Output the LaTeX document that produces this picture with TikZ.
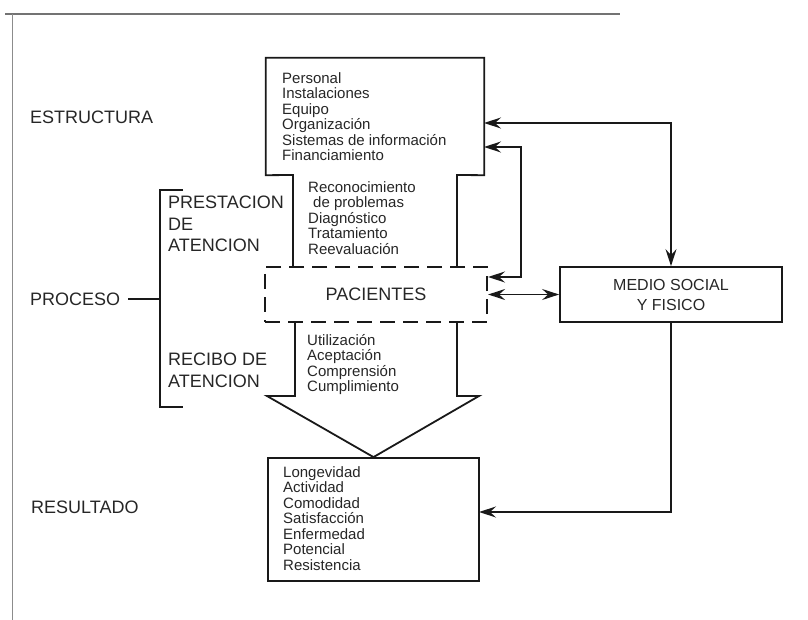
\documentclass[tikz,border=0pt]{standalone}
\usepackage{fontspec}
\setmainfont{Liberation Sans}
\usetikzlibrary{arrows.meta}
\begin{document}
\begin{tikzpicture}[x=1pt,y=-1pt,
  ink/.style={draw=black!90,line width=1.8pt},
  body/.style={anchor=north west,inner sep=0pt,align=left,text=black!85,font=\fontsize{15}{15.5}\selectfont},
  lbl/.style={anchor=west,inner sep=0pt,text=black!85,font=\fontsize{18}{21.5}\selectfont},
  box/.style={ink,rectangle,inner sep=0pt},
  tip/.style={-{Stealth[length=17pt,width=11pt,inset=6pt]}},
  tips/.style={{Stealth[length=17pt,width=11pt,inset=6pt]}-{Stealth[length=17pt,width=11pt,inset=6pt]}}
]
\useasboundingbox (0,0) rectangle (808,620);
% frame
\draw[black!55,line width=1.2pt] (5,14) -- (620,14);
\draw[black!45,line width=1pt] (12,14) -- (12,620);

% structure/process/outcome big arrow outline
\node[minimum width=218pt,minimum height=117pt,inner sep=0pt] (estr) at (375,116.5) {};
\draw[ink] (293,266) -- (293,175) -- (estr.south west) -- (estr.north west) -- (estr.north east) -- (estr.south east) -- (457,175) -- (457,266);
\node[box,dashed,dash pattern=on 15pt off 8pt,line width=2.2pt,minimum width=222pt,minimum height=55pt,
  font=\fontsize{18}{21.5}\selectfont,text=black!85] (pac) at (376,294.5) {PACIENTES};
\node[box,minimum width=211pt,minimum height=123pt] (res) at (373.5,519.5) {};
\draw[ink] (295,322) -- (295,396) -- (267,396) -- (res.north) -- (479,396) -- (457,396) -- (457,322);

\node[box,minimum width=222pt,minimum height=55pt,align=center,
  font=\fontsize{16}{20}\selectfont,text=black!85] (medio) at (671,294.5) {MEDIO SOCIAL\\Y FISICO};

% texts
\node[body] (t1) at (282,72) {Personal\\Instalaciones\\Equipo\\Organización\\Sistemas de información\\Financiamiento};
\node[body] (t2) at (308,181) {Reconocimiento\\\hspace*{5pt}de problemas\\Diagnóstico\\Tratamiento\\Reevaluación};
\node[body] (t3) at (307,334) {Utilización\\Aceptación\\Comprensión\\Cumplimiento};
\node[body] (t4) at (283,466) {Longevidad\\Actividad\\Comodidad\\Satisfacción\\Enfermedad\\Potencial\\Resistencia};

% left labels
\node[lbl] (lestr) at (30,117) {ESTRUCTURA};
\node[lbl] (lproc) at (30,299) {PROCESO};
\node[lbl] (lres) at (31,507) {RESULTADO};
\node[lbl,align=left,anchor=north west] (lprest) at (168,196) {PRESTACION\\DE\\ATENCION};
\node[lbl,align=left,anchor=north west] (lrec) at (168,353) {RECIBO DE\\ATENCION};

% bracket
\coordinate (bk) at (160,299);
\draw[ink,line width=1.6pt] (183,190) -- (160,190) -- (160,407) -- (183,407);
\draw[ink,line width=1.6pt] ([xshift=8pt]lproc.east) -- (bk);

% connectors
\coordinate (s1) at (484,123);
\coordinate (s2) at (484,147);
\coordinate (p2) at (488,277);
\coordinate (j2) at (521,147);
\coordinate (r1) at (479,512);
\draw[ink,line width=1.6pt,tips] (s1) -| (medio.north);
\draw[ink,line width=1.6pt,tips] (p2) -| (j2) -- (s2);
\draw[ink,line width=1.6pt,tips] (pac.east) -- (medio.west);
\draw[ink,line width=1.6pt,tip] (medio.south) |- (r1);
\end{tikzpicture}
\end{document}
